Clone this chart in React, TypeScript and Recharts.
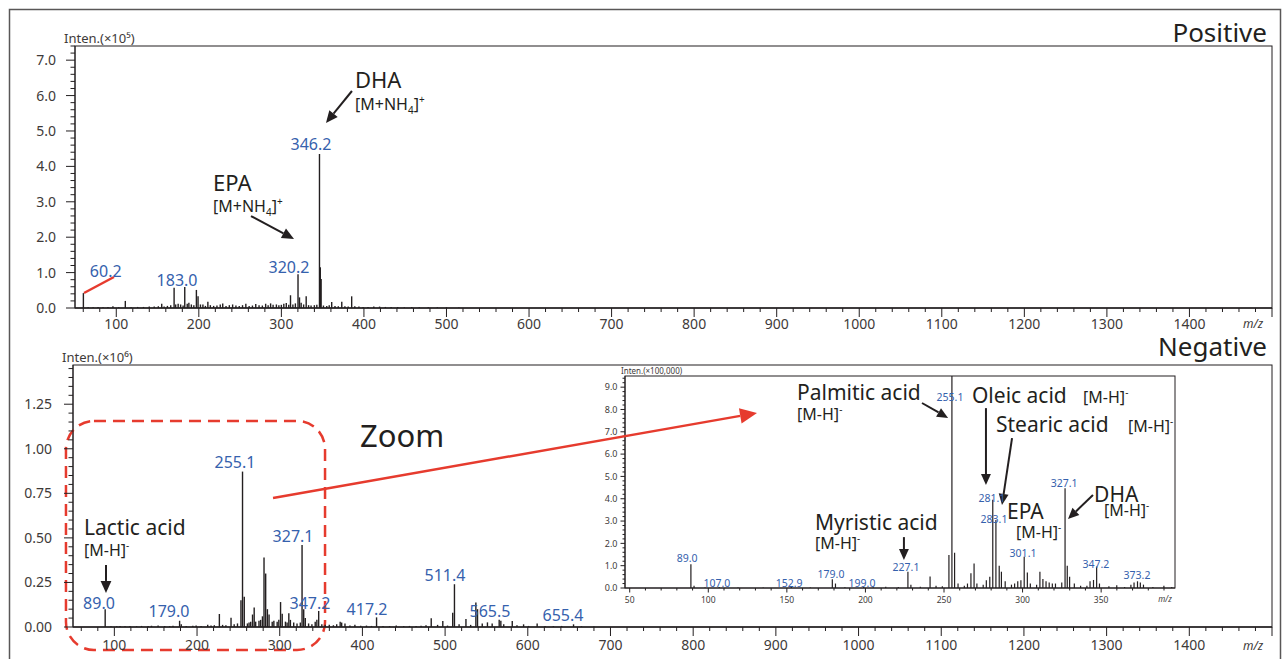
import React from "react";
import { BarChart, Bar, XAxis, YAxis, ReferenceDot, ReferenceLine, ReferenceArea } from "recharts";

const FONT = '"Noto Sans", "Open Sans", sans-serif';
const INK = "#231f20";
const GREY = "#3e3a39";
const BLUE = "#3561ad";
const RED = "#e63b2e";

// Positive mode, Inten. (x10^5)
const posMz = [
  60.2, 66, 72, 78, 84, 90, 96, 103, 111.0, 118,
  126, 133, 140, 146, 151, 155.1, 158, 162, 166, 170.1,
  172, 175, 178, 181, 183.0, 186, 188, 191, 194, 197.1,
  199.1, 202, 205, 208, 211, 214, 218, 222, 226, 229,
  233, 237, 241, 245, 249, 253, 257, 261, 265, 269,
  273, 277, 281, 284, 287, 290, 294, 297, 300, 303,
  306, 309, 311.1, 314, 317, 320.2, 322, 324, 327, 330.1,
  333, 336, 340, 343, 346.2, 347.2, 348.2, 351, 355, 358,
  361, 365, 369, 373.2, 377, 381, 385.2, 389, 394, 399,
  405, 412, 419, 426, 433, 441, 449, 458, 467, 478,
  489, 500, 515,
];
const posInten = [
  0.42, 0.02, 0.02, 0.03, 0.02, 0.03, 0.05, 0.02, 0.2, 0.02,
  0.03, 0.03, 0.04, 0.04, 0.05, 0.12, 0.04, 0.06, 0.08, 0.57,
  0.1, 0.12, 0.1, 0.07, 0.59, 0.12, 0.15, 0.1, 0.08, 0.51,
  0.33, 0.1, 0.1, 0.06, 0.18, 0.08, 0.06, 0.07, 0.1, 0.13,
  0.06, 0.08, 0.1, 0.07, 0.06, 0.08, 0.12, 0.06, 0.07, 0.11,
  0.08, 0.07, 0.12, 0.08, 0.13, 0.09, 0.1, 0.08, 0.09, 0.12,
  0.14, 0.09, 0.36, 0.1, 0.13, 0.95, 0.3, 0.15, 0.1, 0.33,
  0.08, 0.07, 0.08, 0.09, 4.35, 1.15, 0.82, 0.07, 0.06, 0.08,
  0.17, 0.06, 0.05, 0.18, 0.05, 0.04, 0.33, 0.05, 0.04, 0.03,
  0.03, 0.04, 0.04, 0.03, 0.03, 0.03, 0.02, 0.03, 0.02, 0.02,
  0.02, 0.02, 0.015,
];

// Negative mode, Inten. (x10^6)
const negMz = [
  89.0, 96, 103, 107.0, 113, 119, 127, 133, 141, 145,
  153, 161, 167, 171, 179.0, 181, 187, 195, 199, 205,
  213, 217, 221, 227.1, 231, 235, 241.2, 245, 249, 253.2,
  255.1, 257.2, 261, 263, 265, 267.2, 269.2, 271, 275, 277,
  279.2, 281.1, 283.1, 285.2, 287.2, 291, 293, 297, 299, 301.1,
  303.1, 307, 309, 311.1, 313, 317, 321, 325, 327.1, 329.1,
  331, 335, 339, 343, 345, 347.2, 351, 355, 360, 365,
  369, 373.2, 375, 379, 385, 391, 398, 405, 411, 417.2,
  425, 433, 441, 450, 457, 465, 471, 477, 483.3, 491,
  497.3, 503, 509.3, 511.4, 517, 525.3, 531, 537.3, 539.3, 545,
  551.3, 557, 565.5, 567.5, 571, 581.3, 587, 595, 601, 611.4,
  621, 631, 641, 655.4, 665, 680,
];
const negInten = [
  0.1, 0.004, 0.004, 0.006, 0.004, 0.005, 0.004, 0.006, 0.005, 0.007,
  0.008, 0.006, 0.005, 0.007, 0.035, 0.015, 0.006, 0.007, 0.008, 0.006,
  0.012, 0.008, 0.01, 0.073, 0.012, 0.01, 0.052, 0.015, 0.02, 0.15,
  0.872, 0.17, 0.02, 0.025, 0.03, 0.07, 0.11, 0.03, 0.035, 0.04,
  0.06, 0.39, 0.3, 0.1, 0.07, 0.03, 0.035, 0.03, 0.04, 0.14,
  0.075, 0.03, 0.025, 0.077, 0.04, 0.025, 0.02, 0.025, 0.46, 0.1,
  0.05, 0.02, 0.015, 0.03, 0.04, 0.09, 0.015, 0.012, 0.012, 0.01,
  0.015, 0.03, 0.025, 0.02, 0.008, 0.012, 0.007, 0.008, 0.006, 0.054,
  0.006, 0.005, 0.008, 0.005, 0.006, 0.005, 0.007, 0.01, 0.049, 0.012,
  0.034, 0.008, 0.08, 0.24, 0.015, 0.045, 0.012, 0.138, 0.1, 0.02,
  0.026, 0.02, 0.04, 0.035, 0.015, 0.033, 0.01, 0.015, 0.006, 0.02,
  0.006, 0.005, 0.006, 0.015, 0.004, 0.003,
];

// Negative mode zoom 50-400, Inten. (x100,000)
const zoomMz = [
  89.0, 91, 98, 107.0, 119, 135, 152.9, 165, 179.0, 181,
  187, 199.0, 205, 213, 221, 227.1, 229, 235, 241.2, 245,
  249, 253.2, 255.1, 256.8, 259, 263, 265, 267.2, 269.2, 271,
  275, 277, 279.2, 281.1, 283.1, 285.2, 286.6, 289, 293, 295,
  297, 299, 301.1, 303.1, 305, 309, 311.1, 313, 315, 317,
  319, 321, 325, 327.1, 328.5, 330, 333, 337, 341, 343,
  345.2, 347.2, 349, 355, 360, 365, 369, 371, 373.2, 375,
  377, 383, 390, 395,
];
const zoomInten = [
  1.06, 0.1, 0.02, 0.05, 0.02, 0.02, 0.06, 0.02, 0.39, 0.2,
  0.03, 0.05, 0.03, 0.06, 0.04, 0.73, 0.15, 0.06, 0.51, 0.1,
  0.08, 1.48, 9.5, 1.58, 0.2, 0.1, 0.2, 0.66, 1.1, 0.2,
  0.15, 0.35, 0.5, 3.95, 3.05, 1.0, 0.73, 0.3, 0.15, 0.2,
  0.3, 0.35, 1.4, 0.7, 0.2, 0.15, 0.73, 0.4, 0.3, 0.25,
  0.2, 0.2, 0.25, 4.47, 1.0, 0.5, 0.2, 0.1, 0.1, 0.3,
  0.36, 0.96, 0.2, 0.08, 0.12, 0.05, 0.15, 0.25, 0.3, 0.25,
  0.15, 0.05, 0.1, 0.04,
];

// axis ticks
const mzMajor = [100, 200, 300, 400, 500, 600, 700, 800, 900, 1000, 1100, 1200, 1300, 1400, 1500];
const mzLabels = [100, 200, 300, 400, 500, 600, 700, 800, 900, 1000, 1100, 1200, 1300, 1400];
const posYMajor = [0, 1, 2, 3, 4, 5, 6, 7];
const negYMajor = [0, 0.25, 0.5, 0.75, 1.0, 1.25];
const zoomXMajor = [50, 100, 150, 200, 250, 300, 350];
const zoomYMajor = [0, 1, 2, 3, 4, 5, 6, 7, 8, 9];

const steps = (from: number, to: number, step: number) => {
  const out: number[] = [];
  for (let i = 0; from + i * step <= to + 1e-9; i++) out.push(Math.round((from + i * step) * 1000) / 1000);
  return out;
};
const near = (list: number[], v: number) => list.some((m) => Math.abs(m - v) < 1e-6);

const posData = posMz.map((mz, i) => ({ mz, inten: posInten[i] }));
const negData = negMz.map((mz, i) => ({ mz, inten: negInten[i] }));
const zoomData = zoomMz.map((mz, i) => ({ mz, inten: zoomInten[i] }));

// annotations (data coordinates)
const posPeakLabels = [
  { text: "60.2", mz: 87.2, y: 0.876 },
  { text: "183.0", mz: 173.6, y: 0.621 },
  { text: "320.2", mz: 309.2, y: 0.989 },
  { text: "346.2", mz: 335.9, y: 4.463 },
];
const posNames = [
  { text: "EPA", mz: 217.2, y: 3.305 },
  { text: "DHA", mz: 389.2, y: 6.214 },
];
const posIons = [
  { mz: 217.2, y: 2.711 },
  { mz: 389.2, y: 5.592 },
];
const posArrows = [
  { from: [263.2, 2.598], to: [315.3, 1.949] },
  { from: [385.5, 6.129], to: [354.0, 5.225] },
];

const negPeakLabels = [
  { text: "89.0", mz: 81.4, y: 0.101 },
  { text: "179.0", mz: 166.1, y: 0.056 },
  { text: "255.1", mz: 245.9, y: 0.892 },
  { text: "327.1", mz: 316.1, y: 0.477 },
  { text: "347.2", mz: 336.6, y: 0.101 },
  { text: "417.2", mz: 405.6, y: 0.067 },
  { text: "511.4", mz: 499.9, y: 0.258 },
  { text: "565.5", mz: 554.3, y: 0.056 },
  { text: "655.4", mz: 642.6, y: 0.034 },
];

const zoomPeakLabels = [
  { text: "89.0", mz: 86.5, y: 1.16 },
  { text: "107.0", mz: 105.5, y: 0.04 },
  { text: "152.9", mz: 151.4, y: 0.04 },
  { text: "179.0", mz: 178.1, y: 0.45 },
  { text: "199.0", mz: 197.8, y: 0.04 },
  { text: "227.1", mz: 225.8, y: 0.76 },
  { text: "255.1", mz: 253.8, y: 8.38 },
  { text: "281.1", mz: 280.5, y: 3.85 },
  { text: "283.1", mz: 281.8, y: 2.91 },
  { text: "301.1", mz: 300.3, y: 1.39 },
  { text: "327.1", mz: 326.4, y: 4.52 },
  { text: "347.2", mz: 346.7, y: 0.9 },
  { text: "373.2", mz: 372.8, y: 0.4 },
];
const zoomNames = [
  { text: "Palmitic acid", mz: 156.5, y: 8.42 },
  { text: "Oleic acid", mz: 267.8, y: 8.29 },
  { text: "Stearic acid", mz: 283.1, y: 6.99 },
  { text: "EPA", mz: 290.1, y: 3.09 },
  { text: "DHA", mz: 345.5, y: 3.85 },
  { text: "Myristic acid", mz: 167.9, y: 2.62 },
];
const zoomIons = [
  { mz: 156.5, y: 7.53 },
  { mz: 338.5, y: 8.29 },
  { mz: 367.1, y: 6.99 },
  { mz: 295.8, y: 2.26 },
  { mz: 351.8, y: 3.23 },
  { mz: 167.9, y: 1.74 },
];
const zoomArrows = [
  { from: [236.0, 8.29], to: [252.6, 7.62] },
  { from: [276.7, 8.06], to: [276.7, 4.61] },
  { from: [293.3, 6.72], to: [286.9, 3.72] },
  { from: [344.8, 4.17], to: [328.9, 3.09] },
  { from: [224.5, 2.28], to: [224.5, 1.25] },
];

type AxisStyle = {
  major: number[];
  labeled: number[];
  majorLen: number;
  minorLen: number;
  gap: number;
  size: number;
  digits: number;
};

const yTick = (s: AxisStyle) => (p: any) => {
  const v = p.payload.value;
  const major = near(s.major, v);
  return (
    <g>
      <line x1={p.x} y1={p.y} x2={p.x - (major ? s.majorLen : s.minorLen)} y2={p.y} stroke={INK} strokeWidth={1} />
      {major && near(s.labeled, v) && (
        <text x={p.x - s.majorLen - s.gap} y={p.y} dy="0.36em" textAnchor="end" fontSize={s.size} fill={GREY} fontFamily={FONT}>
          {v.toFixed(s.digits)}
        </text>
      )}
    </g>
  );
};

const xTick = (s: AxisStyle) => (p: any) => {
  const v = p.payload.value;
  const major = near(s.major, v);
  return (
    <g>
      <line x1={p.x} y1={p.y} x2={p.x} y2={p.y + (major ? s.majorLen : s.minorLen)} stroke={INK} strokeWidth={1} />
      {major && near(s.labeled, v) && (
        <text x={p.x} y={p.y + s.gap} textAnchor="middle" fontSize={s.size} fill={GREY} fontFamily={FONT}>
          {v}
        </text>
      )}
    </g>
  );
};

const stick = (w: number) => (p: any) => {
  if (p.height == null || p.width == null) return null;
  const cx = p.x + p.width / 2;
  return <line x1={cx} x2={cx} y1={p.y} y2={p.y + p.height} stroke={INK} strokeWidth={w} />;
};

const textShape = (text: string, size: number, color: string, anchor: "start" | "middle" = "middle") => (p: any) => (
  <text x={p.cx} y={p.cy} fontSize={size} fill={color} textAnchor={anchor} fontFamily={FONT}>
    {text}
  </text>
);

const ionShape = (kind: "nh4" | "mh", size: number) => (p: any) => (
  <text x={p.cx} y={p.cy} fontSize={size} fill={INK} fontFamily={FONT}>
    {kind === "nh4" ? (
      <>
        [M+NH
        <tspan fontSize={size * 0.62} dy={size * 0.22}>4</tspan>
        <tspan dy={-size * 0.22}>]</tspan>
        <tspan fontSize={size * 0.62} dy={-size * 0.42}>+</tspan>
      </>
    ) : (
      <>
        [M-H]
        <tspan fontSize={size * 0.62} dy={-size * 0.42}>-</tspan>
      </>
    )}
  </text>
);

const arrowShape = (color: string, width: number, head: number) => (p: any) => {
  const { x1, y1, x2, y2 } = p;
  const dx = x2 - x1;
  const dy = y2 - y1;
  const len = Math.hypot(dx, dy) || 1;
  const ux = dx / len;
  const uy = dy / len;
  const bx = x2 - ux * head;
  const by = y2 - uy * head;
  const hw = head * 0.45;
  return (
    <g>
      <line x1={x1} y1={y1} x2={bx} y2={by} stroke={color} strokeWidth={width} />
      <polygon points={`${x2},${y2} ${bx - uy * hw},${by + ux * hw} ${bx + uy * hw},${by - ux * hw}`} fill={color} />
    </g>
  );
};

const boxShape = (p: any) => (
  <rect x={p.x} y={p.y} width={p.width} height={p.height} fill="none" stroke={INK} strokeWidth={1} />
);

const mainX: AxisStyle = { major: mzMajor, labeled: mzLabels, majorLen: 9, minorLen: 4, gap: 21, size: 14, digits: 0 };

export default function App() {
  return (
    <div style={{ position: "absolute", left: 0, top: 0, width: 1285, height: 659, background: "#fff", overflow: "hidden" }}>
      {/* Positive */}
      <div style={{ position: "absolute", left: 0, top: 0 }}>
        <BarChart width={1285} height={340} data={posData} margin={{ top: 46, right: 13, bottom: 2, left: 0 }}>
          <XAxis
            type="number"
            dataKey="mz"
            domain={[50, 1500]}
            allowDataOverflow
            ticks={steps(60, 1500, 20)}
            interval={0}
            tickSize={0}
            tickMargin={0}
            tickLine={false}
            height={30}
            axisLine={{ stroke: INK, strokeWidth: 1.5 }}
            tick={xTick(mainX)}
          />
          <YAxis
            type="number"
            domain={[0, 7.4]}
            allowDataOverflow
            ticks={steps(0, 7.4, 0.2)}
            interval={0}
            tickSize={0}
            tickMargin={0}
            tickLine={false}
            width={75}
            axisLine={{ stroke: INK }}
            tick={yTick({ major: posYMajor, labeled: posYMajor, majorLen: 9, minorLen: 4.5, gap: 10, size: 14, digits: 1 })}
          />
          <ReferenceArea x1={50} x2={1500} y1={0} y2={7.4} ifOverflow="visible" shape={boxShape} />
          <Bar dataKey="inten" barSize={2} isAnimationActive={false} shape={stick(1.4)} />
          <ReferenceLine
            segment={[{ x: 60.9, y: 0.424 }, { x: 97.2, y: 0.876 }]}
            ifOverflow="visible"
            stroke={RED}
            strokeWidth={2.5}
          />
          {posArrows.map((a, i) => (
            <ReferenceLine
              key={"pa" + i}
              segment={[{ x: a.from[0], y: a.from[1] }, { x: a.to[0], y: a.to[1] }]}
              ifOverflow="visible"
              shape={arrowShape(INK, 2, 12)}
            />
          ))}
          {posPeakLabels.map((l) => (
            <ReferenceDot key={l.text} x={l.mz} y={l.y} ifOverflow="visible" shape={textShape(l.text, 16, BLUE)} />
          ))}
          {posNames.map((l) => (
            <ReferenceDot key={l.text} x={l.mz} y={l.y} ifOverflow="visible" shape={textShape(l.text, 22, INK, "start")} />
          ))}
          {posIons.map((l, i) => (
            <ReferenceDot key={"pi" + i} x={l.mz} y={l.y} ifOverflow="visible" shape={ionShape("nh4", 16)} />
          ))}
        </BarChart>
      </div>

      {/* Negative zoom inset */}
      <div style={{ position: "absolute", left: 590, top: 366 }}>
        <BarChart width={600} height={245} data={zoomData} margin={{ top: 10, right: 15, bottom: 3, left: 0 }}>
          <XAxis
            type="number"
            dataKey="mz"
            domain={[47, 397]}
            allowDataOverflow
            ticks={steps(50, 390, 10)}
            interval={0}
            tickSize={0}
            tickMargin={0}
            tickLine={false}
            height={20}
            axisLine={{ stroke: INK, strokeWidth: 1.2 }}
            tick={xTick({ major: zoomXMajor, labeled: zoomXMajor, majorLen: 4.5, minorLen: 2.5, gap: 15, size: 8.5, digits: 0 })}
          />
          <YAxis
            type="number"
            domain={[0, 9.5]}
            allowDataOverflow
            ticks={steps(0, 9.4, 0.2)}
            interval={0}
            tickSize={0}
            tickMargin={0}
            tickLine={false}
            width={35}
            axisLine={{ stroke: INK }}
            tick={yTick({ major: zoomYMajor, labeled: zoomYMajor, majorLen: 4.5, minorLen: 2.5, gap: 3, size: 9, digits: 1 })}
          />
          <ReferenceArea x1={47} x2={397} y1={0} y2={9.5} ifOverflow="visible" shape={boxShape} />
          <Bar dataKey="inten" barSize={2} isAnimationActive={false} shape={stick(1.2)} />
          {zoomArrows.map((a, i) => (
            <ReferenceLine
              key={"za" + i}
              segment={[{ x: a.from[0], y: a.from[1] }, { x: a.to[0], y: a.to[1] }]}
              ifOverflow="visible"
              shape={arrowShape(INK, 2, 11)}
            />
          ))}
          {zoomPeakLabels.map((l) => (
            <ReferenceDot key={l.text} x={l.mz} y={l.y} ifOverflow="visible" shape={textShape(l.text, 10.5, BLUE)} />
          ))}
          {zoomNames.map((l) => (
            <ReferenceDot key={l.text} x={l.mz} y={l.y} ifOverflow="visible" shape={textShape(l.text, 21, INK, "start")} />
          ))}
          {zoomIons.map((l, i) => (
            <ReferenceDot key={"zi" + i} x={l.mz} y={l.y} ifOverflow="visible" shape={ionShape("mh", 16)} />
          ))}
        </BarChart>
      </div>

      {/* Negative */}
      <div style={{ position: "absolute", left: 0, top: 330 }}>
        <BarChart width={1285} height={330} data={negData} margin={{ top: 35, right: 13, bottom: 3, left: 0 }}>
          <XAxis
            type="number"
            dataKey="mz"
            domain={[50, 1500]}
            allowDataOverflow
            ticks={steps(60, 1500, 20)}
            interval={0}
            tickSize={0}
            tickMargin={0}
            tickLine={false}
            height={30}
            axisLine={{ stroke: INK, strokeWidth: 1.5 }}
            tick={xTick({ ...mainX, gap: 23 })}
          />
          <YAxis
            type="number"
            domain={[0, 1.47]}
            allowDataOverflow
            ticks={steps(0, 1.45, 0.05)}
            interval={0}
            tickSize={0}
            tickMargin={0}
            tickLine={false}
            width={73}
            axisLine={{ stroke: INK }}
            tick={yTick({ major: negYMajor, labeled: negYMajor, majorLen: 9, minorLen: 4.5, gap: 12, size: 14, digits: 2 })}
          />
          <ReferenceArea x1={50} x2={1500} y1={0} y2={1.47} ifOverflow="visible" shape={boxShape} />
          <Bar dataKey="inten" barSize={2} isAnimationActive={false} shape={stick(1.4)} />
          <ReferenceArea
            x1={41.5}
            x2={354.8}
            y1={-0.129}
            y2={1.156}
            ifOverflow="visible"
            shape={(p: any) => (
              <rect x={p.x} y={p.y} width={p.width} height={p.height} rx={28} fill="none" stroke={RED} strokeWidth={2.5} strokeDasharray="12 7" />
            )}
          />
          <ReferenceLine
            segment={[{ x: 291.9, y: 0.724 }, { x: 877.2, y: 1.201 }]}
            ifOverflow="visible"
            shape={arrowShape(RED, 2.5, 17)}
          />
          <ReferenceLine
            segment={[{ x: 89.9, y: 0.348 }, { x: 89.9, y: 0.191 }]}
            ifOverflow="visible"
            shape={arrowShape(INK, 2, 12)}
          />
          {negPeakLabels.map((l) => (
            <ReferenceDot key={l.text} x={l.mz} y={l.y} ifOverflow="visible" shape={textShape(l.text, 16, BLUE)} />
          ))}
          <ReferenceDot x={63.3} y={0.516} ifOverflow="visible" shape={textShape("Lactic acid", 21, INK, "start")} />
          <ReferenceDot x={63.3} y={0.398} ifOverflow="visible" shape={ionShape("mh", 16)} />
          <ReferenceDot x={397.1} y={1.01} ifOverflow="visible" shape={textShape("Zoom", 31, INK, "start")} />
        </BarChart>
      </div>

      {/* titles, units and frame */}
      <svg width={1285} height={659} style={{ position: "absolute", left: 0, top: 0, pointerEvents: "none" }}>
        <rect x={9.5} y={9.5} width={1271} height={700} fill="none" stroke="#595757" strokeWidth={1.5} />
        <text x={1267} y={42} textAnchor="end" fontSize={26} fill={INK} fontFamily={FONT}>Positive</text>
        <text x={1267} y={356} textAnchor="end" fontSize={26} fill={INK} fontFamily={FONT}>Negative</text>
        <text x={64} y={43} fontSize={13} fill={GREY} fontFamily={FONT}>Inten.(×10⁵)</text>
        <text x={62} y={362} fontSize={13} fill={GREY} fontFamily={FONT}>Inten.(×10⁶)</text>
        <text x={621} y={374} fontSize={8} fill={GREY} fontFamily={FONT}>Inten.(×100,000)</text>
        <text x={1253} y={328} textAnchor="middle" fontSize={12} fontStyle="italic" fill={GREY} fontFamily={FONT}>m/z</text>
        <text x={1253} y={650} textAnchor="middle" fontSize={12} fontStyle="italic" fill={GREY} fontFamily={FONT}>m/z</text>
        <text x={1165} y={602} textAnchor="middle" fontSize={8} fontStyle="italic" fill={GREY} fontFamily={FONT}>m/z</text>
      </svg>
    </div>
  );
}
